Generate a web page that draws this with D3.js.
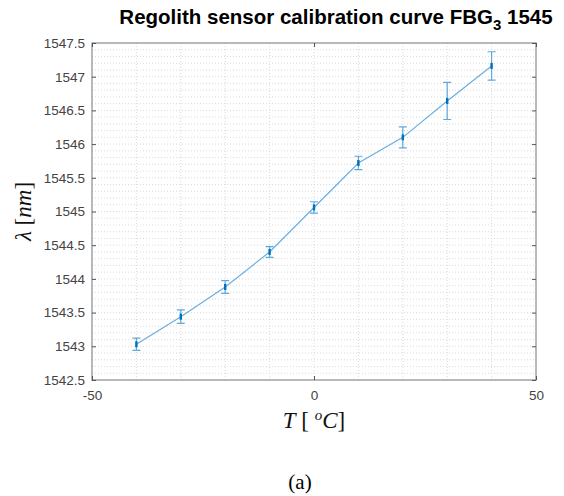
<!DOCTYPE html>
<html>
<head>
<meta charset="utf-8">
<script src="https://cdn.jsdelivr.net/npm/d3@7"></script>
<style>
  body { margin: 0; background: #fff; }
  svg { display: block; }
</style>
</head>
<body>
<script>
// temperatures (degC) and measured Bragg wavelength (nm) with error bar half-widths
const temps = [-40, -30, -20, -10, 0, 10, 20, 30, 40];
const lambda = [1543.03, 1543.44, 1543.88, 1544.40, 1545.06, 1545.72, 1546.10, 1546.64, 1547.16];
const errs = [0.09, 0.10, 0.095, 0.08, 0.085, 0.10, 0.155, 0.275, 0.21];
const xTicks = [-50, 0, 50];
const yTicks = [1542.5, 1543, 1543.5, 1544, 1544.5, 1545, 1545.5, 1546, 1546.5, 1547, 1547.5];

const width = 564, height = 496;
const margin = {top: 43, right: 28, bottom: 116, left: 92};

const svg = d3.select("body").append("svg")
    .attr("width", width)
    .attr("height", height);

const x = d3.scaleLinear()
    .domain([-50, 50])
    .range([margin.left, width - margin.right]);
const y = d3.scaleLinear()
    .domain([1542.5, 1547.5])
    .range([height - margin.bottom, margin.top]);

// minor grid (every 10 in x, every 0.1 in y)
const grid = svg.append("g")
    .attr("stroke", "#d0d0d0")
    .attr("stroke-width", 0.8)
    .attr("stroke-dasharray", "1,2");
grid.selectAll(".gx")
  .data(d3.range(-40, 50, 10))
  .join("line")
    .attr("x1", d => x(d)).attr("x2", d => x(d))
    .attr("y1", y(1542.5)).attr("y2", y(1547.5));
grid.selectAll(".gy")
  .data(d3.range(1, 50).map(i => 1542.5 + i * 0.1))
  .join("line")
    .attr("y1", d => y(d)).attr("y2", d => y(d))
    .attr("x1", x(-50)).attr("x2", x(50));

// box
svg.append("rect")
    .attr("x", x(-50)).attr("y", y(1547.5))
    .attr("width", x(50) - x(-50)).attr("height", y(1542.5) - y(1547.5))
    .attr("fill", "none")
    .attr("stroke", "#8a8a8a")
    .attr("stroke-width", 1.2);

// axes
const xAxis = g => g
    .attr("transform", `translate(0,${y(1542.5)})`)
    .call(d3.axisBottom(x).tickValues(xTicks).tickSize(-4).tickPadding(10).tickFormat(d => String(d)))
    .call(g => g.select(".domain").remove());
const xAxisTop = g => g
    .attr("transform", `translate(0,${y(1547.5)})`)
    .call(d3.axisTop(x).tickValues(xTicks).tickSize(-4).tickFormat(""))
    .call(g => g.select(".domain").remove());
const yAxis = g => g
    .attr("transform", `translate(${x(-50)},0)`)
    .call(d3.axisLeft(y).tickValues(yTicks).tickSize(-4).tickPadding(7).tickFormat(d => String(d)))
    .call(g => g.select(".domain").remove());
const yAxisRight = g => g
    .attr("transform", `translate(${x(50)},0)`)
    .call(d3.axisRight(y).tickValues(yTicks).tickSize(-4).tickFormat(""))
    .call(g => g.select(".domain").remove());

for (const ax of [xAxis, xAxisTop, yAxis, yAxisRight]) {
  svg.append("g")
      .call(ax)
      .call(g => g.selectAll(".tick line").attr("stroke", "#555"))
      .call(g => g.selectAll(".tick text")
          .attr("fill", "#444")
          .attr("font-family", "Liberation Sans, Arial, sans-serif")
          .attr("font-size", 13.5));
}

const data = temps.map((t, i) => ({t, v: lambda[i], e: errs[i]}));

// line
svg.append("path")
    .datum(data)
    .attr("fill", "none")
    .attr("stroke", "#6aaee0")
    .attr("stroke-width", 1.2)
    .attr("d", d3.line().x(d => x(d.t)).y(d => y(d.v)));

// error bars
const eb = svg.append("g")
    .attr("stroke", "#5fa8dc")
    .attr("stroke-width", 1.2)
    .attr("fill", "none");
eb.selectAll("path")
  .data(data)
  .join("path")
    .attr("d", d => {
      const cx = x(d.t), y0 = y(d.v - d.e), y1 = y(d.v + d.e), w = 4;
      return `M${cx},${y0}V${y1}M${cx - w},${y0}H${cx + w}M${cx - w},${y1}H${cx + w}`;
    });

// markers
svg.append("g")
    .attr("fill", "#0072bd")
  .selectAll("rect")
  .data(data)
  .join("rect")
    .attr("x", d => x(d.t) - 1.2)
    .attr("y", d => y(d.v) - 3)
    .attr("width", 2.4)
    .attr("height", 6);

// title
const title = svg.append("text")
    .attr("x", 336)
    .attr("y", 24)
    .attr("text-anchor", "middle")
    .attr("font-family", "Liberation Sans, Arial, sans-serif")
    .attr("font-weight", "bold")
    .attr("font-size", 20.5)
    .attr("fill", "#000");
title.append("tspan").text("Regolith sensor calibration curve FBG");
title.append("tspan").attr("dy", 6).attr("font-size", 15).text("3");
title.append("tspan").attr("dy", -6).text(" 1545");

// y label
const yl = svg.append("text")
    .attr("transform", `translate(31,${(y(1542.5) + y(1547.5)) / 2}) rotate(-90)`)
    .attr("text-anchor", "middle")
    .attr("font-family", "Liberation Serif, Times New Roman, serif")
    .attr("font-size", 23)
    .attr("fill", "#111");
yl.append("tspan").attr("font-style", "italic").text("λ ");
yl.append("tspan").text("[");
yl.append("tspan").attr("font-style", "italic").text("nm");
yl.append("tspan").text("]");

// x label
const xl = svg.append("text")
    .attr("x", (x(-50) + x(50)) / 2)
    .attr("y", 428)
    .attr("text-anchor", "middle")
    .attr("font-family", "Liberation Serif, Times New Roman, serif")
    .attr("font-size", 23)
    .attr("fill", "#111");
xl.append("tspan").attr("font-style", "italic").text("T");
xl.append("tspan").text(" [ ");
xl.append("tspan").attr("font-style", "italic").attr("font-size", 15).attr("dy", -8).text("o");
xl.append("tspan").attr("font-style", "italic").attr("dy", 8).text("C");
xl.append("tspan").text("]");

// caption
svg.append("text")
    .attr("x", 300)
    .attr("y", 489)
    .attr("text-anchor", "middle")
    .attr("font-family", "Liberation Serif, Times New Roman, serif")
    .attr("font-size", 21)
    .attr("fill", "#000")
    .text("(a)");
</script>
</body>
</html>
